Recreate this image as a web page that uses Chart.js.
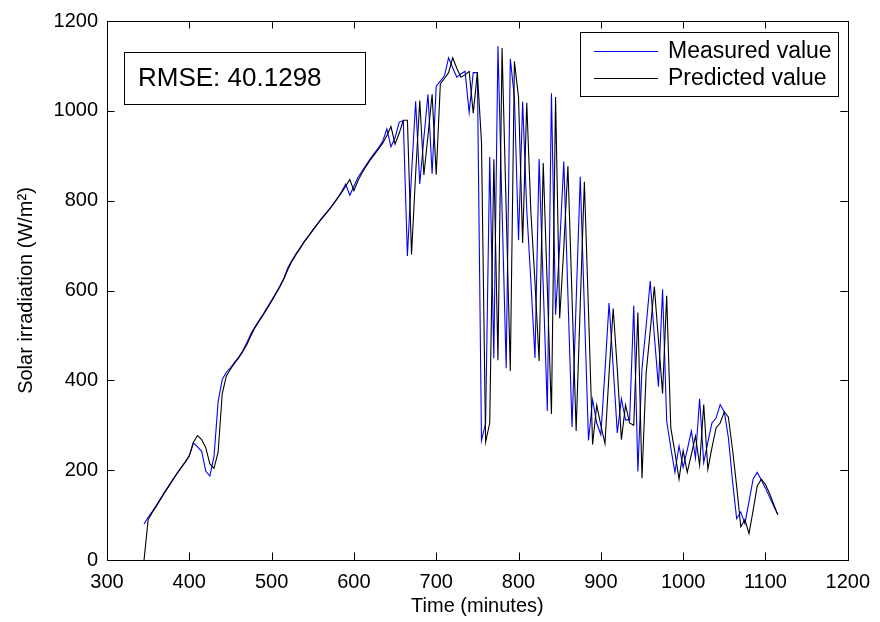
<!DOCTYPE html>
<html>
<head>
<meta charset="utf-8">
<script src="https://cdn.jsdelivr.net/npm/chart.js@4.4.1/dist/chart.umd.min.js"></script>
<style>
  html, body { margin: 0; padding: 0; background: #fff; }
  #wrap { width: 880px; height: 622px; }
</style>
</head>
<body>
<div id="wrap"><canvas id="irradiation-chart" width="880" height="622"></canvas></div>
<script>
// sample times, minutes of the day (5 min step)
var minutes = [
  345, 350, 355, 360, 365, 370, 375, 380, 385, 390,
  395, 400, 405, 410, 415, 420, 425, 430, 435, 440,
  445, 450, 455, 460, 465, 470, 475, 480, 485, 490,
  495, 500, 505, 510, 515, 520, 525, 530, 535, 540,
  545, 550, 555, 560, 565, 570, 575, 580, 585, 590,
  595, 600, 605, 610, 615, 620, 625, 630, 635, 640,
  645, 650, 655, 660, 665, 670, 675, 680, 685, 690,
  695, 700, 705, 710, 715, 720, 725, 730, 735, 740,
  745, 750, 755, 760, 765, 770, 775, 780, 785, 790,
  795, 800, 805, 810, 815, 820, 825, 830, 835, 840,
  845, 850, 855, 860, 865, 870, 875, 880, 885, 890,
  895, 900, 905, 910, 915, 920, 925, 930, 935, 940,
  945, 950, 955, 960, 965, 970, 975, 980, 985, 990,
  995, 1000, 1005, 1010, 1015, 1020, 1025, 1030, 1035, 1040,
  1045, 1050, 1055, 1060, 1065, 1070, 1075, 1080, 1085, 1090,
  1095, 1100, 1105, 1110, 1115
];

// measured solar irradiation, W/m2
var measured = [
  80, 95, 108, 122, 137, 151, 165, 179, 193, 206,
  218, 232, 261, 252, 242, 198, 187, 230, 352, 402,
  418, 428, 440, 452, 466, 484, 504, 520, 534, 548,
  563, 578, 594, 610, 628, 652, 668, 683, 696, 710,
  722, 735, 747, 759, 770, 781, 793, 806, 820, 837,
  812, 832, 852, 866, 880, 894, 906, 918, 932, 960,
  920, 940, 975, 978, 677, 860, 1021, 837, 940, 1037,
  860, 1055, 1066, 1078, 1118, 1096, 1075, 1082, 1088, 996,
  1085, 1085, 266, 305, 897, 449, 1144, 780, 427, 1116,
  1030, 712, 1020, 780, 620, 450, 893, 610, 332, 1039,
  546, 700, 887, 590, 296, 575, 853, 560, 266, 357,
  305, 279, 420, 572, 430, 283, 359, 312, 312, 566,
  197, 426, 520, 621, 500, 386, 603, 310, 250, 195,
  254, 206, 245, 287, 227, 359, 217, 262, 305, 316,
  346, 330, 272, 176, 92, 107, 81, 130, 180, 195,
  178, 160, 140, 120, 101
];

// predicted solar irradiation, W/m2
var predicted = [
  0, 90, 106, 120, 135, 150, 164, 178, 192, 205,
  218, 232, 262, 277, 268, 250, 214, 204, 240, 370,
  410, 425, 438, 450, 464, 480, 500, 518, 532, 546,
  561, 576, 592, 608, 626, 648, 666, 681, 695, 709,
  721, 734, 746, 758, 769, 780, 792, 805, 818, 832,
  847, 822, 845, 862, 877, 891, 903, 915, 928, 945,
  965, 926, 950, 979, 979, 680, 860, 1023, 857, 945,
  1037, 858, 1060, 1072, 1085, 1118, 1095, 1075, 1080, 1088,
  995, 1085, 930, 263, 305, 892, 445, 1140, 780, 421,
  1110, 1030, 706, 1018, 775, 618, 443, 884, 605, 325,
  1031, 538, 695, 877, 585, 287, 570, 842, 555, 257,
  345, 300, 259, 415, 560, 425, 268, 345, 305, 300,
  551, 182, 415, 510, 609, 490, 371, 588, 294, 240,
  180, 243, 195, 235, 276, 211, 346, 202, 250, 294,
  305, 330, 318, 246, 165, 74, 90, 59, 110, 165,
  180, 168, 148, 124, 101
];

var seriesNames = ["Measured value", "Predicted value"];
var seriesColors = ["#0000ff", "#000000"];
var rmseText = "RMSE: 40.1298";

function toPoints(values) {
  return values.map(function (v, i) { return { x: minutes[i], y: v }; });
}

var FONT = "'Liberation Sans', Arial, Helvetica, sans-serif";

// matlab style frame: box on all four sides with inward ticks
var framePlugin = {
  id: "frame",
  afterDatasetsDraw: function (chart) {
    var c = chart.ctx, a = chart.chartArea;
    var xs = chart.scales.x, ys = chart.scales.y;
    var len = 7.5;
    c.save();
    c.strokeStyle = "#000";
    c.lineWidth = 1;
    c.beginPath();
    xs.ticks.forEach(function (t) {
      var px = Math.round(xs.getPixelForValue(t.value)) + 0.5;
      c.moveTo(px, a.bottom); c.lineTo(px, a.bottom - len);
      c.moveTo(px, a.top); c.lineTo(px, a.top + len);
    });
    ys.ticks.forEach(function (t) {
      var py = Math.round(ys.getPixelForValue(t.value)) + 0.5;
      c.moveTo(a.left, py); c.lineTo(a.left + len, py);
      c.moveTo(a.right, py); c.lineTo(a.right - len, py);
    });
    c.stroke();
    c.strokeRect(Math.round(a.left) + 0.5, Math.round(a.top) + 0.5,
      Math.round(a.right - a.left), Math.round(a.bottom - a.top));
    c.restore();
  }
};

// legend box (top right) and RMSE box (top left)
var boxesPlugin = {
  id: "boxes",
  afterDraw: function (chart) {
    var c = chart.ctx, a = chart.chartArea;
    c.save();
    c.lineWidth = 1;

    // legend
    var lx = Math.round(a.right - 268), ly = Math.round(a.top + 11), lw = 258, lh = 64;
    c.fillStyle = "#fff";
    c.fillRect(lx, ly, lw, lh);
    c.strokeStyle = "#000";
    c.strokeRect(lx + 0.5, ly + 0.5, lw, lh);
    c.font = "23px " + FONT;
    c.textBaseline = "middle";
    for (var i = 0; i < seriesNames.length; i++) {
      var ry = ly + 19 + i * 27;
      c.strokeStyle = seriesColors[i];
      c.beginPath();
      c.moveTo(lx + 14, ry + 0.5);
      c.lineTo(lx + 78, ry + 0.5);
      c.stroke();
      c.fillStyle = "#000";
      c.fillText(seriesNames[i], lx + 88, ry + 1);
    }

    // RMSE annotation
    var bx = Math.round(a.left + 17), by = Math.round(a.top + 31), bw = 241, bh = 52;
    c.fillStyle = "#fff";
    c.fillRect(bx, by, bw, bh);
    c.strokeStyle = "#000";
    c.strokeRect(bx + 0.5, by + 0.5, bw, bh);
    c.fillStyle = "#000";
    c.font = "26px " + FONT;
    c.fillText(rmseText, bx + 14, by + bh / 2 + 1);
    c.restore();
  }
};

function plainTick(value) {
  return String(value);
}

const ctx = document.getElementById("irradiation-chart");

const irradiationChart = new Chart(ctx, {
  type: "line",
  data: {
    datasets: [
      {
        label: seriesNames[0],
        data: toPoints(measured),
        borderColor: seriesColors[0],
        borderWidth: 1.1,
        pointRadius: 0,
        tension: 0,
        fill: false,
        order: 2,
      },
      {
        label: seriesNames[1],
        data: toPoints(predicted),
        borderColor: seriesColors[1],
        borderWidth: 1.1,
        pointRadius: 0,
        tension: 0,
        fill: false,
        order: 1,
      },
    ],
  },
  options: {
    responsive: false,
    animation: false,
    events: [],
    layout: {
      padding: { top: 16, right: 27, bottom: 0, left: 0 },
    },
    plugins: {
      legend: { display: false },
      tooltip: { enabled: false },
    },
    scales: {
      x: {
        type: "linear",
        min: 300,
        max: 1200,
        afterFit: function (scale) { scale.height = 62; },
        ticks: {
          stepSize: 100,
          color: "#000",
          padding: 10,
          maxRotation: 0,
          callback: plainTick,
          font: { size: 20, family: FONT },
        },
        grid: { display: false, drawTicks: false },
        border: { display: false },
        title: {
          display: true,
          text: "Time (minutes)",
          color: "#000",
          font: { size: 20, family: FONT },
          padding: { top: 0, bottom: 4 },
        },
      },
      y: {
        min: 0,
        max: 1200,
        afterFit: function (scale) { scale.width = 107; },
        ticks: {
          stepSize: 200,
          color: "#000",
          padding: 9,
          callback: plainTick,
          font: { size: 20, family: FONT },
        },
        grid: { display: false, drawTicks: false },
        border: { display: false },
        title: {
          display: true,
          text: "Solar irradiation (W/m\u00B2)",
          color: "#000",
          font: { size: 20, family: FONT },
          padding: { top: 14, bottom: 0 },
        },
      },
    },
  },
  plugins: [framePlugin, boxesPlugin],
});
</script>
</body>
</html>
